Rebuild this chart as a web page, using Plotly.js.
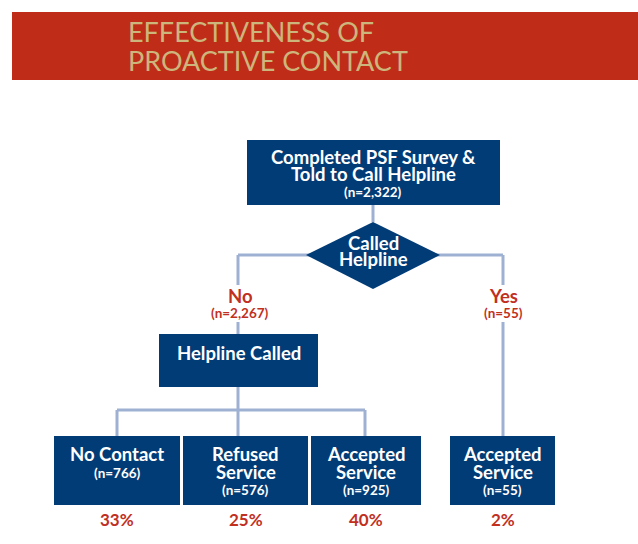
<!DOCTYPE html>
<html><head><meta charset="utf-8">
<script src="https://cdn.plot.ly/plotly-3.0.1.min.js"></script>
<style>html,body{margin:0;padding:0;background:#fff}#chart{width:638px;height:544px}</style>
</head><body><div id="chart"></div>
<script>
// ---- data ----
const headerLines = ['EFFECTIVENESS OF', 'PROACTIVE CONTACT'];
const rootLabel = ['Completed PSF Survey &', 'Told to Call Helpline'];
const rootN = 2322;
const decisionLabel = ['Called', 'Helpline'];
const branchLabels = ['No', 'Yes'];
const branchN = [2267, 55];
const midLabel = 'Helpline Called';
const outcomeLabels = [['No Contact'], ['Refused', 'Service'], ['Accepted', 'Service'], ['Accepted', 'Service']];
const outcomeN = [766, 576, 925, 55];
const outcomeShare = [33, 25, 40, 2];

// ---- layout geometry (pixels) ----
const NAVY = '#023c77', LINE = '#9fb1d2', RED = '#c1301e', TAN = '#cdb67c', BAND = '#bf2d19';
const FONT = 'Lato, "Open Sans", sans-serif';
const BIG = 18.5, SMALL = 13.5;
const fmt = v => '(n=' + v.toLocaleString('en-US') + ')';

const shapes = [], ann = [];
function rect(x0, y0, x1, y1, color) {
  shapes.push({type: 'rect', xref: 'x', yref: 'y', x0, y0, x1, y1, fillcolor: color, line: {width: 0}, layer: 'above'});
}
function seg(x0, y0, x1, y1) {
  shapes.push({type: 'line', xref: 'x', yref: 'y', x0, y0, x1, y1, line: {color: LINE, width: 3}, layer: 'below'});
}
function text(x, y, t, size, color, bold) {
  ann.push({xref: 'x', yref: 'y', x, y, text: bold ? '<b>' + t + '</b>' : t, showarrow: false,
    xanchor: 'center', yanchor: 'middle', font: {family: FONT, size, color}});
}

// header band
rect(12, 12, 638, 80, BAND);
ann.push({xref: 'x', yref: 'y', x: 126, y: 31, text: headerLines[0], showarrow: false, xanchor: 'left', yanchor: 'middle',
  font: {family: FONT, size: 27, color: TAN}});
ann.push({xref: 'x', yref: 'y', x: 126, y: 60, text: headerLines[1], showarrow: false, xanchor: 'left', yanchor: 'middle',
  font: {family: FONT, size: 27, color: TAN}});

// connectors
seg(373, 205, 373, 222);
seg(238, 255, 503, 255);
seg(238, 255, 238, 285);
seg(503, 255, 503, 285);
seg(238, 322, 238, 334);
seg(503, 322, 503, 436);
seg(238, 387, 238, 410);
seg(117, 410, 365, 410);
[117, 238, 365].forEach(x => seg(x, 410, x, 436));

// root box
rect(247, 140, 500, 205, NAVY);
text(373, 157, rootLabel[0], BIG, '#fff', true);
text(373, 174, rootLabel[1], BIG, '#fff', true);
text(373, 192, fmt(rootN), SMALL, '#fff', true);

// decision diamond
shapes.push({type: 'path', xref: 'x', yref: 'y', path: 'M 373 222 L 440 255 L 373 289 L 306 255 Z',
  fillcolor: NAVY, line: {width: 0}, layer: 'above'});
text(373, 243, decisionLabel[0], BIG, '#fff', true);
text(373, 259, decisionLabel[1], BIG, '#fff', true);

// branch labels
const branchX = [240, 503];
branchLabels.forEach((b, i) => {
  text(branchX[i], 296, b, BIG, RED, true);
  text(branchX[i], 313, fmt(branchN[i]), SMALL, RED, true);
});

// middle box
rect(159, 334, 318, 387, NAVY);
text(238.5, 353, midLabel, BIG, '#fff', true);

// outcome boxes
const boxX = [[54, 180], [183, 308], [311, 421], [450, 555]];
outcomeLabels.forEach((lab, i) => {
  const [x0, x1] = boxX[i];
  const cx = (x0 + x1) / 2;
  rect(x0, 436, x1, 505, NAVY);
  lab.forEach((l, j) => text(cx, 454 + j * 17.5, l, BIG, '#fff', true));
  text(cx, 455 + lab.length * 17.5, fmt(outcomeN[i]), SMALL, '#fff', true);
  text(cx, 519, outcomeShare[i] + '%', 17, RED, true);
});

const layout = {
  width: 638, height: 544, margin: {l: 0, r: 0, t: 0, b: 0},
  paper_bgcolor: '#fff', plot_bgcolor: '#fff', showlegend: false,
  xaxis: {range: [0, 638], visible: false, fixedrange: true},
  yaxis: {range: [544, 0], visible: false, fixedrange: true},
  shapes, annotations: ann
};
Plotly.newPlot('chart', [{x: [], y: [], type: 'scatter', hoverinfo: 'skip'}], layout, {staticPlot: true, displayModeBar: false});
</script></body></html>
